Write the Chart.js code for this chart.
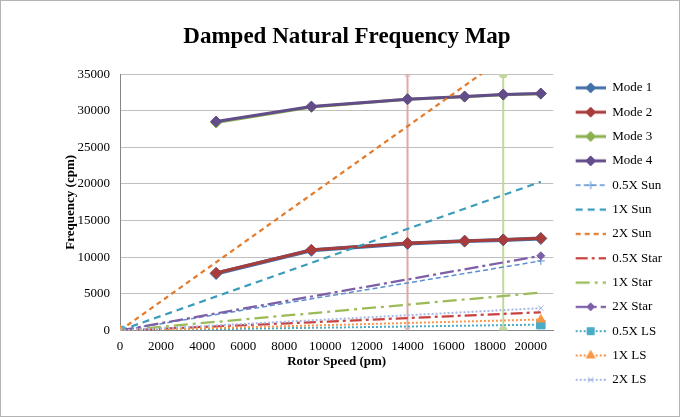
<!DOCTYPE html>
<html>
<head>
<meta charset="utf-8">
<title>Damped Natural Frequency Map</title>
<script src="https://cdn.jsdelivr.net/npm/chart.js@4.4.1/dist/chart.umd.min.js"></script>
<style>
    html, body { margin: 0; padding: 0; background: #fff; }
    .frame { width: 680px; height: 417px; box-sizing: border-box; border: 1px solid #b3b3b3; }
    canvas { display: block; }
</style>
</head>
<body>
<div class="frame"><canvas id="freqChart" width="678" height="415"></canvas></div>
<script>
// Velocidades del rotor (rpm) donde se calcularon los modos
const modeSpeeds = [4680, 9320, 14000, 16780, 18660, 20490];
const mode1 = [7780, 10950, 11880, 12200, 12370, 12560];
const mode2 = [7850, 11000, 11910, 12230, 12400, 12590];
const mode3 = [28380, 30520, 31560, 31920, 32190, 32330];
const mode4 = [28520, 30570, 31580, 31940, 32210, 32350];

// Rectas de excitación (inicio y fin)
const lineSpeeds = [0, 20490];
const sun05 = [0, 9500];
const sun1 = [0, 20300];
const sun2 = [0, 40800];
const star05 = [0, 2490];
const star1 = [0, 5170];
const star2 = [0, 10200];
const ls05 = [0, 800];
const ls1 = [0, 1500];
const ls2 = [0, 3050];

// Líneas verticales de velocidad de operación
const markerSpeeds = [14000, 18660];
const markerRange = [0, 35000];

const speedTicks = [0, 2000, 4000, 6000, 8000, 10000, 12000, 14000, 16000, 18000, 20000];
const freqTicks = [0, 5000, 10000, 15000, 20000, 25000, 30000, 35000];

const FONT = 'Liberation Serif';
Chart.defaults.font.family = FONT;
Chart.defaults.color = '#000';

const pts = (xs, ys) => xs.map((x, i) => ({ x, y: ys[i] }));

function series(label, data, color, width, dash, mark, radius, legend = true) {
    return {
        label,
        data,
        borderColor: color,
        backgroundColor: color,
        borderWidth: width,
        borderDash: dash,
        pointStyle: mark || 'circle',
        pointRadius: mark ? radius : 0,
        pointHoverRadius: mark ? radius : 0,
        pointBackgroundColor: color,
        pointBorderColor: color,
        pointBorderWidth: 1,
        showInLegend: legend
    };
}

const datasets = [
    series('Op 1', pts([markerSpeeds[0], markerSpeeds[0]], markerRange), '#dba9a8', 2, [], 'crossRot', 4, false),
    series('Op 2', pts([markerSpeeds[1], markerSpeeds[1]], markerRange), '#c4d6a0', 2, [], 'circle', 4, false),
    series('Mode 1', pts(modeSpeeds, mode1), '#4470a8', 4, [], 'rectRot', 6),
    series('Mode 2', pts(modeSpeeds, mode2), '#a83c3b', 3, [], 'rectRot', 5.5),
    series('Mode 3', pts(modeSpeeds, mode3), '#8cb050', 3, [], 'rectRot', 5.5),
    series('Mode 4', pts(modeSpeeds, mode4), '#624d8a', 3, [], 'rectRot', 5.5),
    series('0.5X Sun', pts(lineSpeeds, sun05), '#5b8fd0', 1.5, [5, 3], 'cross', 4),
    series('1X Sun', pts(lineSpeeds, sun1), '#3a9cba', 2.25, [7, 5]),
    series('2X Sun', pts(lineSpeeds, sun2), '#e27c2e', 2.25, [5, 4]),
    series('0.5X Star', pts(lineSpeeds, star05), '#c8413e', 2.25, [12, 4, 3, 4]),
    series('1X Star', pts(lineSpeeds, star1), '#9bbb59', 2.25, [14, 5, 3, 5]),
    series('2X Star', pts(lineSpeeds, star2), '#7d5fa8', 2.25, [14, 4, 3, 4], 'rectRot', 4),
    series('0.5X LS', pts(lineSpeeds, ls05), '#4bacc6', 2, [2, 2], 'rect', 6),
    series('1X LS', pts(lineSpeeds, ls1), '#f79646', 2, [2, 2], 'triangle', 5),
    series('2X LS', pts(lineSpeeds, ls2), '#a8b8e4', 2, [2, 2], 'crossRot', 4)
];
// Como en Excel: las series posteriores quedan encima
datasets.forEach((ds, i) => { ds.order = datasets.length - i; });

/**
 * Dibuja un marcador simple en un canvas pequeño
 */
function drawMarker(ctx, style, x, y, r) {
    ctx.beginPath();
    if (style === 'rectRot') {
        ctx.moveTo(x, y - r); ctx.lineTo(x + r, y); ctx.lineTo(x, y + r); ctx.lineTo(x - r, y);
        ctx.closePath(); ctx.fill(); ctx.stroke();
    } else if (style === 'rect') {
        const s = r * Math.SQRT1_2;
        ctx.rect(x - s, y - s, 2 * s, 2 * s); ctx.fill(); ctx.stroke();
    } else if (style === 'triangle') {
        ctx.moveTo(x, y - r); ctx.lineTo(x + r * 0.87, y + r * 0.5); ctx.lineTo(x - r * 0.87, y + r * 0.5);
        ctx.closePath(); ctx.fill(); ctx.stroke();
    } else if (style === 'cross') {
        ctx.moveTo(x, y - r); ctx.lineTo(x, y + r); ctx.moveTo(x - r, y); ctx.lineTo(x + r, y); ctx.stroke();
    } else if (style === 'crossRot') {
        const s = r * Math.SQRT1_2;
        ctx.moveTo(x - s, y - s); ctx.lineTo(x + s, y + s); ctx.moveTo(x + s, y - s); ctx.lineTo(x - s, y + s); ctx.stroke();
    }
}

/**
 * Icono de leyenda: tramo de línea con su marcador
 */
function legendIcon(ds) {
    const c = document.createElement('canvas');
    c.width = 41;
    c.height = 14;
    const ctx = c.getContext('2d');
    ctx.strokeStyle = ds.borderColor;
    ctx.lineWidth = Math.min(ds.borderWidth, 3);
    ctx.setLineDash(ds.borderDash);
    ctx.beginPath();
    ctx.moveTo(11, 7);
    ctx.lineTo(41, 7);
    ctx.stroke();
    ctx.setLineDash([]);
    if (ds.pointRadius > 0) {
        ctx.fillStyle = ds.pointBackgroundColor;
        ctx.lineWidth = 1;
        drawMarker(ctx, ds.pointStyle, 26, 7, Math.min(ds.pointRadius, 5));
    }
    return c;
}

const icons = datasets.map(legendIcon);

new Chart(document.getElementById('freqChart'), {
    type: 'line',
    data: { datasets },
    options: {
        responsive: false,
        animation: false,
        layout: { padding: { left: 21, right: 7, top: 0, bottom: 0 } },
        scales: {
            x: {
                type: 'linear',
                min: 0,
                max: 21100,
                afterBuildTicks: scale => { scale.ticks = speedTicks.map(value => ({ value })); },
                afterFit: scale => { scale.height = 85.5; },
                grid: { display: false, drawTicks: false },
                border: { display: true, color: '#868686', width: 1 },
                ticks: { padding: 8, font: { size: 13 }, color: '#000', callback: v => String(v) },
                title: {
                    display: true,
                    text: 'Rotor Speed (pm)',
                    font: { size: 13, weight: 'bold' },
                    padding: { top: 0, bottom: 47 }
                }
            },
            y: {
                min: 0,
                max: 35000,
                afterBuildTicks: scale => { scale.ticks = freqTicks.map(value => ({ value })); },
                afterFit: scale => { scale.width = 98; },
                grid: { color: '#bfbfbf', drawTicks: false },
                border: { display: true, color: '#868686', width: 1 },
                ticks: { padding: 10, font: { size: 13 }, color: '#000', callback: v => String(v) },
                title: {
                    display: true,
                    text: 'Frequency (cpm)',
                    font: { size: 13, weight: 'bold' },
                    padding: { top: 41, bottom: 0 }
                }
            }
        },
        plugins: {
            tooltip: { enabled: false },
            title: {
                display: true,
                text: 'Damped Natural Frequency Map',
                font: { size: 23, weight: 'bold' },
                color: '#000',
                padding: { top: 22, bottom: 23.5 }
            },
            legend: {
                position: 'right',
                align: 'start',
                title: { display: true, text: ' ', font: { size: 10 }, padding: { top: 57, bottom: 0 } },
                labels: {
                    usePointStyle: true,
                    pointStyleWidth: 41,
                    padding: 11.33,
                    color: '#000',
                    font: { size: 13 },
                    generateLabels: chart => chart.data.datasets
                        .map((ds, i) => ({
                            text: ds.label,
                            pointStyle: icons[i],
                            datasetIndex: i,
                            hidden: false,
                            lineWidth: 0,
                            fontColor: '#000',
                            fillStyle: ds.borderColor,
                            strokeStyle: ds.borderColor,
                            inLegend: ds.showInLegend
                        }))
                        .filter(item => item.inLegend)
                }
            }
        }
    }
});
</script>
</body>
</html>
